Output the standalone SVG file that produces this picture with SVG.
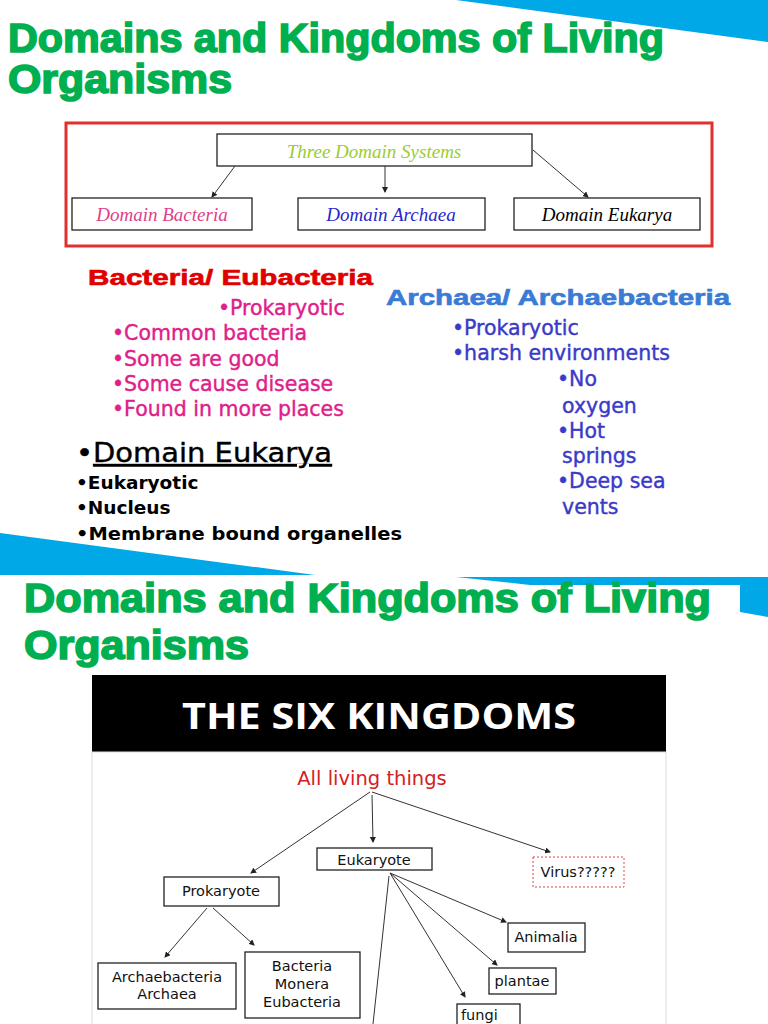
<svg xmlns="http://www.w3.org/2000/svg" width="768" height="1024" viewBox="0 0 768 1024">
<style>
.title{font-family:"Liberation Sans",Arial,sans-serif;font-weight:bold;font-size:40px;fill:#00b050;stroke:#00b050;stroke-width:1.6}
.box{fill:#fff;stroke:#222;stroke-width:1.3}
.ser{font-family:"Liberation Serif",serif;font-style:italic;font-size:19px}
.v{font-family:"DejaVu Sans",sans-serif;font-size:20.5px;stroke-width:0.4}
.b{font-family:"Liberation Sans",Arial,sans-serif;font-weight:bold}
.k{font-family:"DejaVu Sans",sans-serif;font-size:14.5px;fill:#111}
.ln{stroke:#333;stroke-width:1;fill:none}
</style>
<defs>
<marker id="ah" markerWidth="6" markerHeight="6" refX="5" refY="3" orient="auto" markerUnits="userSpaceOnUse"><path d="M0,0 L6,3 L0,6 z" fill="#222"/></marker>
</defs>
<rect width="768" height="1024" fill="#fff"/>
<polygon points="456,0 768,0 768,42" fill="#00a8e8"/>
<polygon points="0,533 0,575 315,575" fill="#00a8e8"/>
<polygon points="456,577 530,585 740,585 740,612 768,617 768,577" fill="#00a8e8"/>
<text class="title" x="8" y="52" textLength="656" lengthAdjust="spacingAndGlyphs">Domains and Kingdoms of Living</text>
<text class="title" x="8" y="93" textLength="224" lengthAdjust="spacingAndGlyphs">Organisms</text>
<rect x="66" y="123" width="646" height="123" fill="none" stroke="#e03030" stroke-width="3"/>
<g id="three"><rect class="box" x="217" y="134" width="315" height="32"/><text class="ser" x="374" y="158" text-anchor="middle" fill="#9acd32">Three Domain Systems</text></g>
<g id="dbac"><rect class="box" x="72" y="198" width="180" height="32"/><text class="ser" x="162" y="221" text-anchor="middle" fill="#e0408a">Domain Bacteria</text></g>
<g id="darc"><rect class="box" x="298" y="198" width="187" height="32"/><text class="ser" x="391" y="221" text-anchor="middle" fill="#2828c8">Domain Archaea</text></g>
<g id="deuk"><rect class="box" x="514" y="198" width="186" height="32"/><text class="ser" x="607" y="221" text-anchor="middle" fill="#000">Domain Eukarya</text></g>
<g id="c1">
<line class="ln" x1="235" y1="166" x2="212" y2="197" marker-end="url(#ah)"/>
<line class="ln" x1="385" y1="166" x2="385" y2="192" marker-end="url(#ah)"/>
<line class="ln" x1="533" y1="150" x2="588" y2="197" marker-end="url(#ah)"/>
</g>
<text class="b" x="88" y="285" font-size="22" fill="#e00000" stroke="#e00000" stroke-width="0.6" textLength="285" lengthAdjust="spacingAndGlyphs">Bacteria/ Eubacteria</text>
<g class="v" fill="#e0208a" stroke="#e0208a">
<text x="218" y="315">•Prokaryotic</text>
<text x="112" y="340">•Common bacteria</text>
<text x="112" y="366">•Some are good</text>
<text x="112" y="391">•Some cause disease</text>
<text x="112" y="416">•Found in more places</text>
</g>
<text class="b" x="386" y="305" font-size="22" fill="#3a7bd5" stroke="#3a7bd5" stroke-width="0.6" textLength="344" lengthAdjust="spacingAndGlyphs">Archaea/ Archaebacteria</text>
<g class="v" fill="#3a3ac8" stroke="#3a3ac8" font-size="19">
<text x="452" y="335">•Prokaryotic</text>
<text x="452" y="360" textLength="218" lengthAdjust="spacingAndGlyphs">•harsh environments</text>
<text x="557" y="386">•No</text>
<text x="562" y="413">oxygen</text>
<text x="557" y="438">•Hot</text>
<text x="562" y="463">springs</text>
<text x="557" y="488">•Deep sea</text>
<text x="562" y="514">vents</text>
</g>
<text x="76" y="462" font-family="DejaVu Sans,sans-serif" font-size="26" fill="#000" stroke="#000" stroke-width="0.4" textLength="256" lengthAdjust="spacingAndGlyphs">•<tspan text-decoration="underline">Domain Eukarya</tspan></text>
<g font-family="DejaVu Sans,sans-serif" font-weight="bold" font-size="18.5" fill="#000">
<text x="76" y="489">•Eukaryotic</text>
<text x="76" y="514">•Nucleus</text>
<text x="76" y="540" textLength="326" lengthAdjust="spacingAndGlyphs">•Membrane bound organelles</text>
</g>
<text class="title" x="24" y="612" textLength="687" lengthAdjust="spacingAndGlyphs">Domains and Kingdoms of Living</text>
<text class="title" x="24" y="659" textLength="225" lengthAdjust="spacingAndGlyphs">Organisms</text>
<rect x="92" y="675" width="574" height="77" fill="#000"/>
<text x="379" y="729" text-anchor="middle" font-family="Open Sans,DejaVu Sans,sans-serif" font-weight="bold" font-size="36" fill="#fff" textLength="394" lengthAdjust="spacingAndGlyphs">THE SIX KINGDOMS</text>
<rect x="92" y="752" width="574" height="280" fill="none" stroke="#ddd"/>
<text x="372" y="785" text-anchor="middle" font-family="DejaVu Sans,sans-serif" font-size="19.5" fill="#d42020">All living things</text>
<g id="euk"><rect class="box" x="317" y="848" width="115" height="22"/><text class="k" x="374" y="865" text-anchor="middle">Eukaryote</text></g>
<g id="virus"><rect x="533" y="857" width="91" height="30" fill="#fff" stroke="#d44" stroke-dasharray="2,2"/><text class="k" x="578" y="877" text-anchor="middle" fill="#c22">Virus?????</text></g>
<g id="pro"><rect class="box" x="164" y="877" width="115" height="29"/><text class="k" x="221" y="896" text-anchor="middle">Prokaryote</text></g>
<g id="arch"><rect class="box" x="98" y="963" width="138" height="46"/><text class="k" x="167" y="982" text-anchor="middle">Archaebacteria</text><text class="k" x="167" y="999" text-anchor="middle">Archaea</text></g>
<g id="bact"><rect class="box" x="245" y="952" width="115" height="66"/><text class="k" x="302" y="971" text-anchor="middle">Bacteria</text><text class="k" x="302" y="989" text-anchor="middle">Monera</text><text class="k" x="302" y="1007" text-anchor="middle">Eubacteria</text></g>
<g id="anim"><rect class="box" x="508" y="923" width="77" height="29"/><text class="k" x="546" y="942" text-anchor="middle">Animalia</text></g>
<g id="plan"><rect class="box" x="489" y="968" width="67" height="26"/><text class="k" x="522" y="986" text-anchor="middle">plantae</text></g>
<g id="fung"><rect class="box" x="457" y="1004" width="63" height="30"/><text class="k" x="461" y="1020">fungi</text></g>
<g id="c2">
<line class="ln" x1="370" y1="792" x2="251" y2="873" marker-end="url(#ah)"/>
<line class="ln" x1="372" y1="795" x2="373" y2="842" marker-end="url(#ah)"/>
<line class="ln" x1="372" y1="792" x2="550" y2="852" marker-end="url(#ah)"/>
<line class="ln" x1="390" y1="873" x2="506" y2="922" marker-end="url(#ah)"/>
<line class="ln" x1="390" y1="873" x2="497" y2="965" marker-end="url(#ah)"/>
<line class="ln" x1="390" y1="873" x2="465" y2="997" marker-end="url(#ah)"/>
<line class="ln" x1="389" y1="876" x2="373" y2="1024"/>
<line class="ln" x1="207" y1="908" x2="165" y2="957" marker-end="url(#ah)"/>
<line class="ln" x1="213" y1="908" x2="254" y2="945" marker-end="url(#ah)"/>
</g>
</svg>
